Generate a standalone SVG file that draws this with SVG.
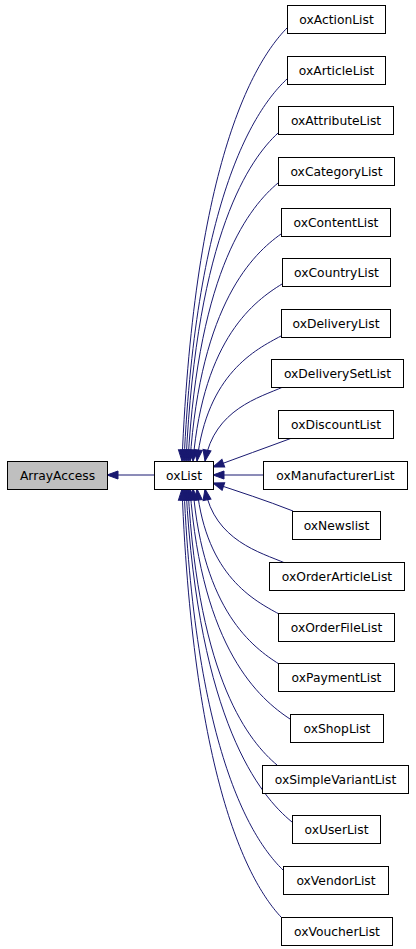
<svg xmlns="http://www.w3.org/2000/svg" width="416" height="949" viewBox="0 0 416 949">
<style>
.n rect{fill:#fff;stroke:#000;stroke-width:1}
.n.g rect{fill:#bfbfbf}
.n text{font-family:"DejaVu Sans","Liberation Sans",sans-serif;font-size:12.3px;text-anchor:middle;fill:#000}
.e path{fill:none;stroke:#191970;stroke-width:1;marker-end:url(#ah)}
</style>
<defs>
<marker id="ah" viewBox="0 -4 11 8" refX="11" refY="0" markerWidth="11" markerHeight="8" markerUnits="userSpaceOnUse" orient="auto" overflow="visible">
<path d="M0,-4 L11,0 L0,4 Z" fill="#191970" stroke="#191970" stroke-width="1"/>
</marker>
</defs>
<rect width="416" height="949" fill="#fff"/>
<g class="e" id="edges">
<path d="M154,475 L107,475"/>
<path d="M287,28 C255.5,60 194.6,158 182,461"/>
<path d="M287,79 C256.1,107.9 196.4,193.6 184,461"/>
<path d="M278,133 C250.4,158.7 197,231.4 186,461"/>
<path d="M278,183 C251,205.7 198.8,266.4 188,461"/>
<path d="M281,234 C253.7,253.6 200.9,302.1 190,461"/>
<path d="M282,284 C255.3,300.6 203.7,337.1 193,461"/>
<path d="M281,336 C255.8,349.5 207.1,373.5 197,461"/>
<path d="M283,387 C259.6,397.4 214.4,409.2 205,461"/>
<path d="M292,438 C265,448 240,457 213,467"/>
<path d="M263,475 L213,475"/>
<path d="M293,511 C265,500 240,492 213,483"/>
<path d="M285,563 C261,552.6 214.6,540.8 205,489"/>
<path d="M279,614 C254.4,600.5 206.8,576.5 197,489"/>
<path d="M279,664 C253.2,647.5 203.3,611.5 193,489"/>
<path d="M290,719 C260,699.2 202,650 190,489"/>
<path d="M277,765 C250.3,742.4 198.7,682.2 188,489"/>
<path d="M292,822 C260.2,796 198.7,722.1 186,489"/>
<path d="M283,870 C253.3,841.1 195.9,755.7 184,489"/>
<path d="M281,917 C251.3,885.3 193.9,788.6 182,489"/>
</g>
<g class="n g" id="ArrayAccess"><rect x="7.5" y="461.5" width="100" height="28"/><text x="57.5" y="480">ArrayAccess</text></g>
<g class="n" id="oxList"><rect x="154.5" y="461.5" width="59" height="28"/><text x="184" y="480">oxList</text></g>
<g class="n" id="oxActionList"><rect x="287.5" y="5.5" width="98" height="28"/><text x="336.5" y="24">oxActionList</text></g>
<g class="n" id="oxArticleList"><rect x="287.5" y="56.5" width="98" height="28"/><text x="336.5" y="75">oxArticleList</text></g>
<g class="n" id="oxAttributeList"><rect x="278.5" y="106.5" width="115" height="28"/><text x="336" y="125">oxAttributeList</text></g>
<g class="n" id="oxCategoryList"><rect x="278.5" y="157.5" width="116" height="28"/><text x="336.5" y="176">oxCategoryList</text></g>
<g class="n" id="oxContentList"><rect x="281.5" y="208.5" width="109" height="28"/><text x="336" y="227">oxContentList</text></g>
<g class="n" id="oxCountryList"><rect x="282.5" y="258.5" width="108" height="28"/><text x="336.5" y="277">oxCountryList</text></g>
<g class="n" id="oxDeliveryList"><rect x="281.5" y="309.5" width="109" height="28"/><text x="336" y="328">oxDeliveryList</text></g>
<g class="n" id="oxDeliverySetList"><rect x="271.5" y="359.5" width="132" height="28"/><text x="337.5" y="378">oxDeliverySetList</text></g>
<g class="n" id="oxDiscountList"><rect x="278.5" y="410.5" width="115" height="28"/><text x="336" y="429">oxDiscountList</text></g>
<g class="n" id="oxManufacturerList"><rect x="263.5" y="461.5" width="144" height="28"/><text x="335.5" y="480">oxManufacturerList</text></g>
<g class="n" id="oxNewslist"><rect x="292.5" y="511.5" width="88" height="28"/><text x="336.5" y="530">oxNewslist</text></g>
<g class="n" id="oxOrderArticleList"><rect x="269.5" y="562.5" width="135" height="28"/><text x="337" y="581">oxOrderArticleList</text></g>
<g class="n" id="oxOrderFileList"><rect x="278.5" y="613.5" width="116" height="28"/><text x="336.5" y="632">oxOrderFileList</text></g>
<g class="n" id="oxPaymentList"><rect x="278.5" y="663.5" width="116" height="28"/><text x="336.5" y="682">oxPaymentList</text></g>
<g class="n" id="oxShopList"><rect x="290.5" y="714.5" width="93" height="28"/><text x="337" y="733">oxShopList</text></g>
<g class="n" id="oxSimpleVariantList"><rect x="262.5" y="765.5" width="146" height="28"/><text x="335.5" y="784">oxSimpleVariantList</text></g>
<g class="n" id="oxUserList"><rect x="292.5" y="815.5" width="88" height="28"/><text x="336.5" y="834">oxUserList</text></g>
<g class="n" id="oxVendorList"><rect x="283.5" y="866.5" width="105" height="28"/><text x="336" y="885">oxVendorList</text></g>
<g class="n" id="oxVoucherList"><rect x="281.5" y="917.5" width="111" height="28"/><text x="337" y="936">oxVoucherList</text></g>
</svg>
